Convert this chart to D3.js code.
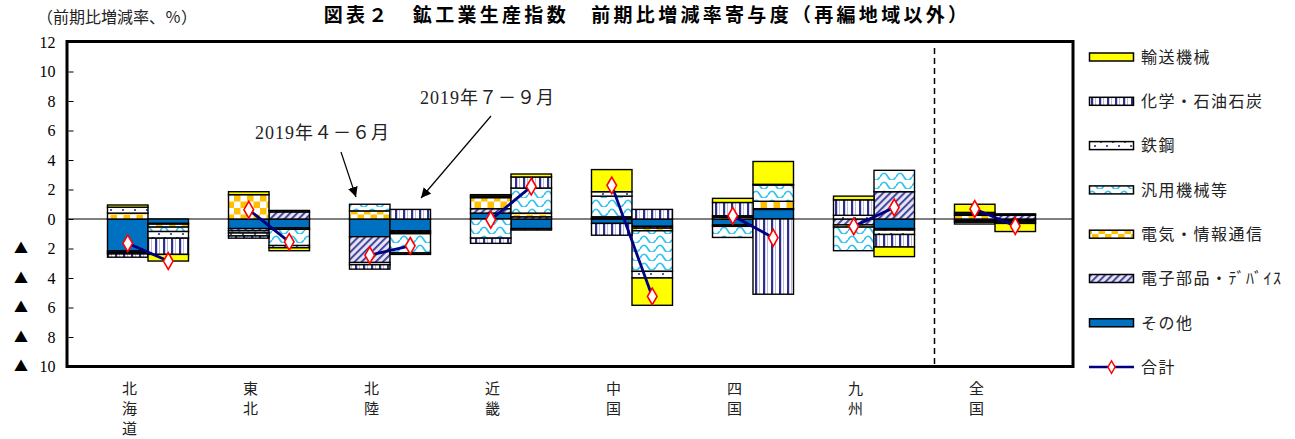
<!DOCTYPE html>
<html><head><meta charset="utf-8">
<script src="https://cdn.jsdelivr.net/npm/d3@7"></script>
<style>
body{margin:0;background:#fff;}
svg{display:block;}
</style></head><body>
<svg id="chart" width="1295" height="439"></svg>
<script>
// ---------- data ----------
const categories = ["北海道","東北","北陸","近畿","中国","四国","九州","全国"];
const periods = ["2019年４－６月","2019年７－９月"];
const seriesNames = ["その他","電子部品・ﾃﾞﾊﾞｲｽ","電気・情報通信","汎用機械等","鉄鋼","化学・石油石炭","輸送機械"];
// each entry: [2019年4-6月, 2019年7-9月]
const sonota = [[-2.17,-0.30],[-0.65,-0.60],[-1.20,-0.80],[0.40,-0.65],[-0.30,-0.50],[-0.40,0.65],[0.00,-0.65],[-0.12,-0.10]];
const denshi = [[-0.10,-0.05],[-0.15,0.48],[-1.75,-0.10],[0.30,0.15],[0.05,-0.12],[-0.10,0.05],[-0.40,1.85],[-0.10,0.25]];
const denki  = [[0.40,-0.20],[1.65,-0.10],[0.55,-0.10],[0.75,0.25],[0.10,-0.18],[0.12,0.50],[-0.15,-0.10],[0.25,0.05]];
const hanyo  = [[-0.10,-0.30],[-0.15,-1.10],[0.45,-1.30],[-1.30,1.70],[1.40,-2.75],[-0.75,1.10],[-1.60,1.45],[0.10,0.05]];
const tekko  = [[0.40,-0.45],[-0.20,-0.15],[-0.15,-0.10],[0.10,-0.10],[0.30,-0.45],[0.10,0.05],[0.25,-0.30],[-0.12,-0.10]];
const kagaku = [[-0.22,-1.10],[-0.15,0.10],[-0.30,0.65],[-0.35,0.75],[-0.80,0.65],[0.90,-5.10],[1.05,-0.85],[0.10,-0.10]];
const yuso   = [[0.15,-0.45],[0.20,-0.20],[0.00,0.00],[0.10,0.20],[1.50,-1.85],[0.28,1.55],[0.25,-0.65],[0.55,-0.55]];
const total  = [[-1.65,-2.85],[0.63,-1.55],[-2.45,-1.82],[-0.05,2.20],[2.28,-5.25],[0.22,-1.27],[-0.50,0.78],[0.68,-0.48]];
const yTicks = [12,10,8,6,4,2,0,-2,-4,-6,-8,-10];
const seriesValues = [sonota, denshi, denki, hanyo, tekko, kagaku, yuso];

// ---------- setup ----------
const svg = d3.select("#chart");
const JP = "'Noto Sans CJK JP','Noto Sans',sans-serif";
const SERIF = "'Liberation Serif','Noto Sans CJK JP',serif";

const defs = svg.append("defs");
// patterns
const pChem = defs.append("pattern").attr("id","p-chem").attr("patternUnits","userSpaceOnUse").attr("width",8).attr("height",8);
pChem.append("rect").attr("width",8).attr("height",8).attr("fill","#fff");
pChem.append("rect").attr("x",3).attr("width",2.2).attr("height",8).attr("fill","#2e2e8f");
pChem.append("rect").attr("x",7).attr("width",1).attr("height",8).attr("fill","#b8b8e0");

const pSteel = defs.append("pattern").attr("id","p-steel").attr("patternUnits","userSpaceOnUse").attr("width",12).attr("height",8);
pSteel.append("rect").attr("width",12).attr("height",8).attr("fill","#fff");
pSteel.append("circle").attr("cx",3).attr("cy",2).attr("r",1.1).attr("fill","#2e2e8f");
pSteel.append("circle").attr("cx",9).attr("cy",6).attr("r",1.1).attr("fill","#2e2e8f");

const pWave = defs.append("pattern").attr("id","p-wave").attr("patternUnits","userSpaceOnUse").attr("width",16).attr("height",9);
pWave.append("rect").attr("width",16).attr("height",9).attr("fill","#fff");
pWave.append("path").attr("d","M0,6 C2.7,1 5.3,1 8,6 S13.3,9.5 16,6").attr("fill","none").attr("stroke","#33c3f0").attr("stroke-width",1.7);

const pElec = defs.append("pattern").attr("id","p-elec").attr("patternUnits","userSpaceOnUse").attr("width",13).attr("height",13);
pElec.append("rect").attr("width",13).attr("height",13).attr("fill","#fff");
pElec.append("rect").attr("width",6.5).attr("height",6.5).attr("fill","#ffc000");
pElec.append("rect").attr("x",6.5).attr("y",6.5).attr("width",6.5).attr("height",6.5).attr("fill","#ffc000");

const pParts = defs.append("pattern").attr("id","p-parts").attr("patternUnits","userSpaceOnUse").attr("width",5).attr("height",5).attr("patternTransform","rotate(45)");
pParts.append("rect").attr("width",5).attr("height",5).attr("fill","#e4e4f4");
pParts.append("rect").attr("width",1.8).attr("height",5).attr("fill","#3a3a96");

const fills = {
  "その他":"#0070c0",
  "電子部品・ﾃﾞﾊﾞｲｽ":"url(#p-parts)",
  "電気・情報通信":"url(#p-elec)",
  "汎用機械等":"url(#p-wave)",
  "鉄鋼":"url(#p-steel)",
  "化学・石油石炭":"url(#p-chem)",
  "輸送機械":"#ffff00"
};

// arrow marker
defs.append("marker").attr("id","arrow").attr("viewBox","0 0 10 10").attr("refX",10).attr("refY",5)
  .attr("markerWidth",10).attr("markerHeight",10).attr("markerUnits","userSpaceOnUse").attr("orient","auto")
  .append("path").attr("d","M0,0 L10,5 L0,10 Z").attr("fill","#000");

// scales
const plot = {left:67, right:1073, top:41.5, bottom:366.5};
const y = d3.scaleLinear().domain([-10,12]).range([366.5,42]);
const x0 = d3.scaleBand().domain(categories).range([87.5,1055.5]).padding(0);
const barW = 40.5;
const x1 = d3.scaleBand().domain(periods).range([x0.bandwidth()/2 - barW, x0.bandwidth()/2 + barW]).padding(0);

// rows for stacking
const rows = [];
categories.forEach((c,i)=>{
  periods.forEach((p,j)=>{
    const r = {cat:c, period:p, total: total[i][j]};
    seriesNames.forEach((s,k)=>{ r[s] = seriesValues[k][i][j]; });
    rows.push(r);
  });
});
const stacked = d3.stack().keys(seriesNames).offset(d3.stackOffsetDiverging)(rows);

// title
svg.append("text").attr("x",647).attr("y",22).attr("text-anchor","middle")
  .style("font-family",JP).style("font-size","19px").style("font-weight","bold").style("letter-spacing","3.3px")
  .text("図表２　鉱工業生産指数　前期比増減率寄与度（再編地域以外）");
svg.append("text").attr("x",37).attr("y",23)
  .style("font-family",JP).style("font-size","16px").style("letter-spacing","0px").attr("fill","#222")
  .text("（前期比増減率、％）");

// zero line
svg.append("line").attr("x1",plot.left).attr("x2",plot.right).attr("y1",y(0)).attr("y2",y(0))
  .attr("stroke","#000").attr("stroke-width",1.2);

// dashed separator
svg.append("line").attr("x1",x0("全国")).attr("x2",x0("全国")).attr("y1",48).attr("y2",plot.bottom)
  .attr("stroke","#000").attr("stroke-width",1.5).attr("stroke-dasharray","6,4");

// bars
const gBars = svg.append("g");
stacked.forEach(layer=>{
  gBars.selectAll(null).data(layer.filter(d=>d[1]!==d[0])).enter().append("rect")
    .attr("x", d=>x0(d.data.cat)+x1(d.data.period))
    .attr("width", x1.bandwidth())
    .attr("y", d=>y(Math.max(d[0],d[1])))
    .attr("height", d=>Math.abs(y(d[0])-y(d[1])))
    .attr("fill", fills[layer.key])
    .attr("stroke","#000").attr("stroke-width",1.4);
});

// total lines and markers
const gTot = svg.append("g");
categories.forEach((c,i)=>{
  const pts = periods.map((p,j)=>[x0(c)+x1(p)+x1.bandwidth()/2, y(total[i][j])]);
  gTot.append("path").attr("d", d3.line()(pts)).attr("fill","none").attr("stroke","#000080").attr("stroke-width",2.8);
});
const diamond = d3.symbol().type(d3.symbolDiamond).size(80);
gTot.selectAll(null).data(rows).enter().append("path")
  .attr("d", diamond)
  .attr("transform", d=>`translate(${x0(d.cat)+x1(d.period)+x1.bandwidth()/2},${y(d.total)})`)
  .attr("fill","#fff").attr("stroke","#ff0000").attr("stroke-width",1.6);

// frame
svg.append("rect").attr("x",plot.left).attr("y",plot.top).attr("width",plot.right-plot.left).attr("height",plot.bottom-plot.top)
  .attr("fill","none").attr("stroke","#000").attr("stroke-width",3);

// y axis
const yAxis = d3.axisLeft(y).tickValues(yTicks).tickSizeInner(-5).tickSizeOuter(0).tickPadding(13)
  .tickFormat(d=>Math.abs(d));
const gy = svg.append("g").attr("transform",`translate(${plot.left+1.5},0)`).call(yAxis);
gy.select(".domain").remove();
gy.selectAll(".tick line").attr("stroke","#000").attr("stroke-width",1);
gy.selectAll(".tick text").style("font-family",SERIF).style("font-size","16px").attr("fill","#000");
gy.selectAll(".tick").filter(d=>d<0).append("text")
  .attr("x",-47.5).attr("dy","0.32em").attr("text-anchor","middle")
  .style("font-family",JP).style("font-size","14px").attr("fill","#000").text("▲");

// x labels (vertical stacked characters)
const gx = svg.append("g");
categories.forEach(c=>{
  const cx = x0(c)+x0.bandwidth()/2 - 18.5;
  const t = gx.append("text").attr("x",cx).attr("y",394).attr("text-anchor","middle")
    .style("font-family",JP).style("font-size","15px").attr("fill","#222");
  Array.from(c).forEach((ch,k)=>{
    t.append("tspan").attr("x",cx).attr("y",394+k*20.2).text(ch);
  });
});

// annotations
svg.append("text").attr("x",255).attr("y",139).style("font-family",SERIF).style("font-size","18px").style("letter-spacing","1px").attr("fill","#222")
  .text(periods[0]);
svg.append("text").attr("x",420).attr("y",104).style("font-family",SERIF).style("font-size","18px").style("letter-spacing","1px").attr("fill","#222")
  .text(periods[1]);
svg.append("line").attr("x1",341).attr("y1",152).attr("x2",356).attr("y2",197)
  .attr("stroke","#000").attr("stroke-width",1.2).attr("marker-end","url(#arrow)");
svg.append("line").attr("x1",491).attr("y1",116).attr("x2",421).attr("y2",198)
  .attr("stroke","#000").attr("stroke-width",1.2).attr("marker-end","url(#arrow)");

// legend
const legendItems = seriesNames.slice().reverse();
const gl = svg.append("g");
legendItems.forEach((s,i)=>{
  const cy = 57 + i*44.3;
  gl.append("rect").attr("x",1089.5).attr("y",cy-4).attr("width",44).attr("height",8)
    .attr("fill",fills[s]).attr("stroke","#000").attr("stroke-width",1.5);
  gl.append("text").attr("x",1141).attr("y",cy).attr("dy","0.36em")
    .style("font-family",JP).style("font-size","16px").style("letter-spacing","1.5px").attr("fill","#222").text(s);
});
{
  const cy = 57 + 7*44.3;
  gl.append("line").attr("x1",1089).attr("x2",1134).attr("y1",cy).attr("y2",cy).attr("stroke","#000080").attr("stroke-width",2.5);
  gl.append("path").attr("d",d3.symbol().type(d3.symbolDiamond).size(45)).attr("transform",`translate(1111.5,${cy})`)
    .attr("fill","#fff").attr("stroke","#ff0000").attr("stroke-width",1.4);
  gl.append("text").attr("x",1141).attr("y",cy).attr("dy","0.36em")
    .style("font-family",JP).style("font-size","16px").style("letter-spacing","1.5px").attr("fill","#222").text("合計");
}
</script>
</body></html>
